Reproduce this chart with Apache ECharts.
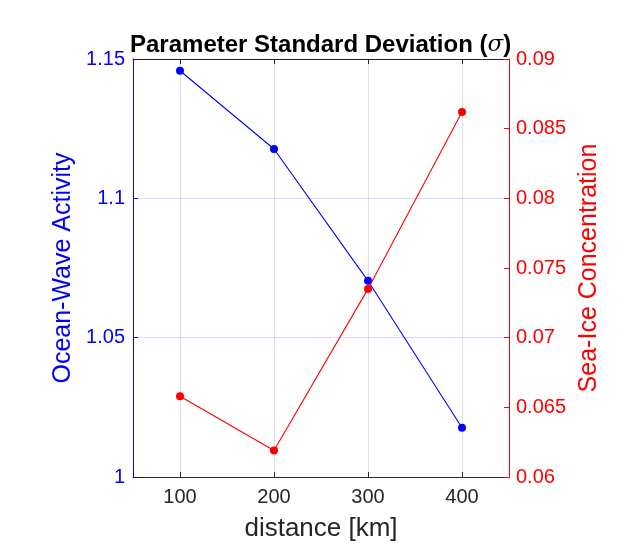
<!DOCTYPE html>
<html>
<head>
<meta charset="utf-8">
<script src="https://cdn.jsdelivr.net/npm/echarts@6/dist/echarts.min.js"></script>
<style>html,body{margin:0;padding:0;background:#fff;}#chart{width:632px;height:556px;}</style>
</head>
<body>
<div id="chart"></div>
<script>
const distances = [100, 200, 300, 400];
const oceanWave = [1.1458, 1.1177, 1.0704, 1.0177];
const seaIce = [0.0658, 0.0619, 0.0735, 0.0862];
const xTicks = [100, 200, 300, 400];

const FONT = '"Liberation Sans", Arial, Helvetica, sans-serif';
const BLUE = '#0000FF';
const RED = '#FF0000';
const DARK = '#262626';

const chart = echarts.init(document.getElementById('chart'));
chart.setOption({
  animation: false,
  backgroundColor: '#fff',
  title: {
    text: '{b|Parameter Standard Deviation (}{s|σ}{b|)}',
    left: 125, top: 28,
    textStyle: {
      rich: {
        b: {fontFamily: FONT, fontWeight: 'bold', fontSize: 24, color: '#000'},
        s: {fontFamily: '"DejaVu Serif", "Liberation Serif", serif', fontStyle: 'italic', fontWeight: 'normal', fontSize: 23, color: '#000'}
      }
    }
  },
  grid: {left: 133, right: 123, top: 59, bottom: 79, containLabel: false},
  xAxis: [{
    type: 'value', min: 50, max: 450, position: 'bottom',
    name: 'distance [km]', nameLocation: 'middle', nameGap: 39,
    nameTextStyle: {fontFamily: FONT, fontSize: 26, color: DARK},
    axisLine: {show: true, onZero: false, lineStyle: {color: DARK, width: 1}},
    axisTick: {show: true, inside: true, length: 5, customValues: xTicks, lineStyle: {color: DARK}},
    axisLabel: {customValues: xTicks, fontFamily: FONT, fontSize: 20, color: DARK, margin: 10},
    splitLine: {show: true, lineStyle: {color: 'rgba(38,38,38,0.15)', width: 1}}
  }, {
    type: 'value', min: 50, max: 450, position: 'top',
    axisLine: {show: true, onZero: false, lineStyle: {color: DARK, width: 1}},
    axisTick: {show: true, inside: true, length: 5, customValues: xTicks, lineStyle: {color: DARK}},
    axisLabel: {show: false},
    splitLine: {show: false}
  }],
  yAxis: [{
    type: 'value', min: 1, max: 1.15, interval: 0.05, position: 'left',
    name: 'Ocean-Wave Activity', nameLocation: 'middle', nameGap: 52, nameRotate: 90,
    nameTextStyle: {fontFamily: FONT, fontSize: 25, color: BLUE},
    axisLine: {show: true, onZero: false, lineStyle: {color: BLUE, width: 1}},
    axisTick: {show: true, inside: true, length: 5, lineStyle: {color: BLUE}},
    axisLabel: {fontFamily: FONT, fontSize: 20, color: BLUE, margin: 8,
      formatter: v => String(parseFloat(v.toFixed(3)))},
    splitLine: {show: true, lineStyle: {color: 'rgba(0,0,255,0.15)', width: 1}}
  }, {
    type: 'value', min: 0.06, max: 0.09, interval: 0.005, position: 'right',
    name: 'Sea-Ice Concentration', nameLocation: 'middle', nameGap: 68, nameRotate: 90,
    nameTextStyle: {fontFamily: FONT, fontSize: 25, color: RED},
    axisLine: {show: true, onZero: false, lineStyle: {color: RED, width: 1}},
    axisTick: {show: true, inside: true, length: 5, lineStyle: {color: RED}},
    axisLabel: {fontFamily: FONT, fontSize: 20, color: RED, margin: 7,
      formatter: v => String(parseFloat(v.toFixed(4)))},
    splitLine: {show: false}
  }],
  series: [{
    type: 'line', name: 'Ocean-Wave Activity', xAxisIndex: 0, yAxisIndex: 0,
    data: distances.map((d, i) => [d, oceanWave[i]]),
    symbol: 'circle', symbolSize: 8,
    lineStyle: {color: BLUE, width: 1.1}, itemStyle: {color: BLUE}, z: 3
  }, {
    type: 'line', name: 'Sea-Ice Concentration', xAxisIndex: 0, yAxisIndex: 1,
    data: distances.map((d, i) => [d, seaIce[i]]),
    symbol: 'circle', symbolSize: 8,
    lineStyle: {color: RED, width: 1.1}, itemStyle: {color: RED}, z: 4
  }]
});
</script>
</body>
</html>
